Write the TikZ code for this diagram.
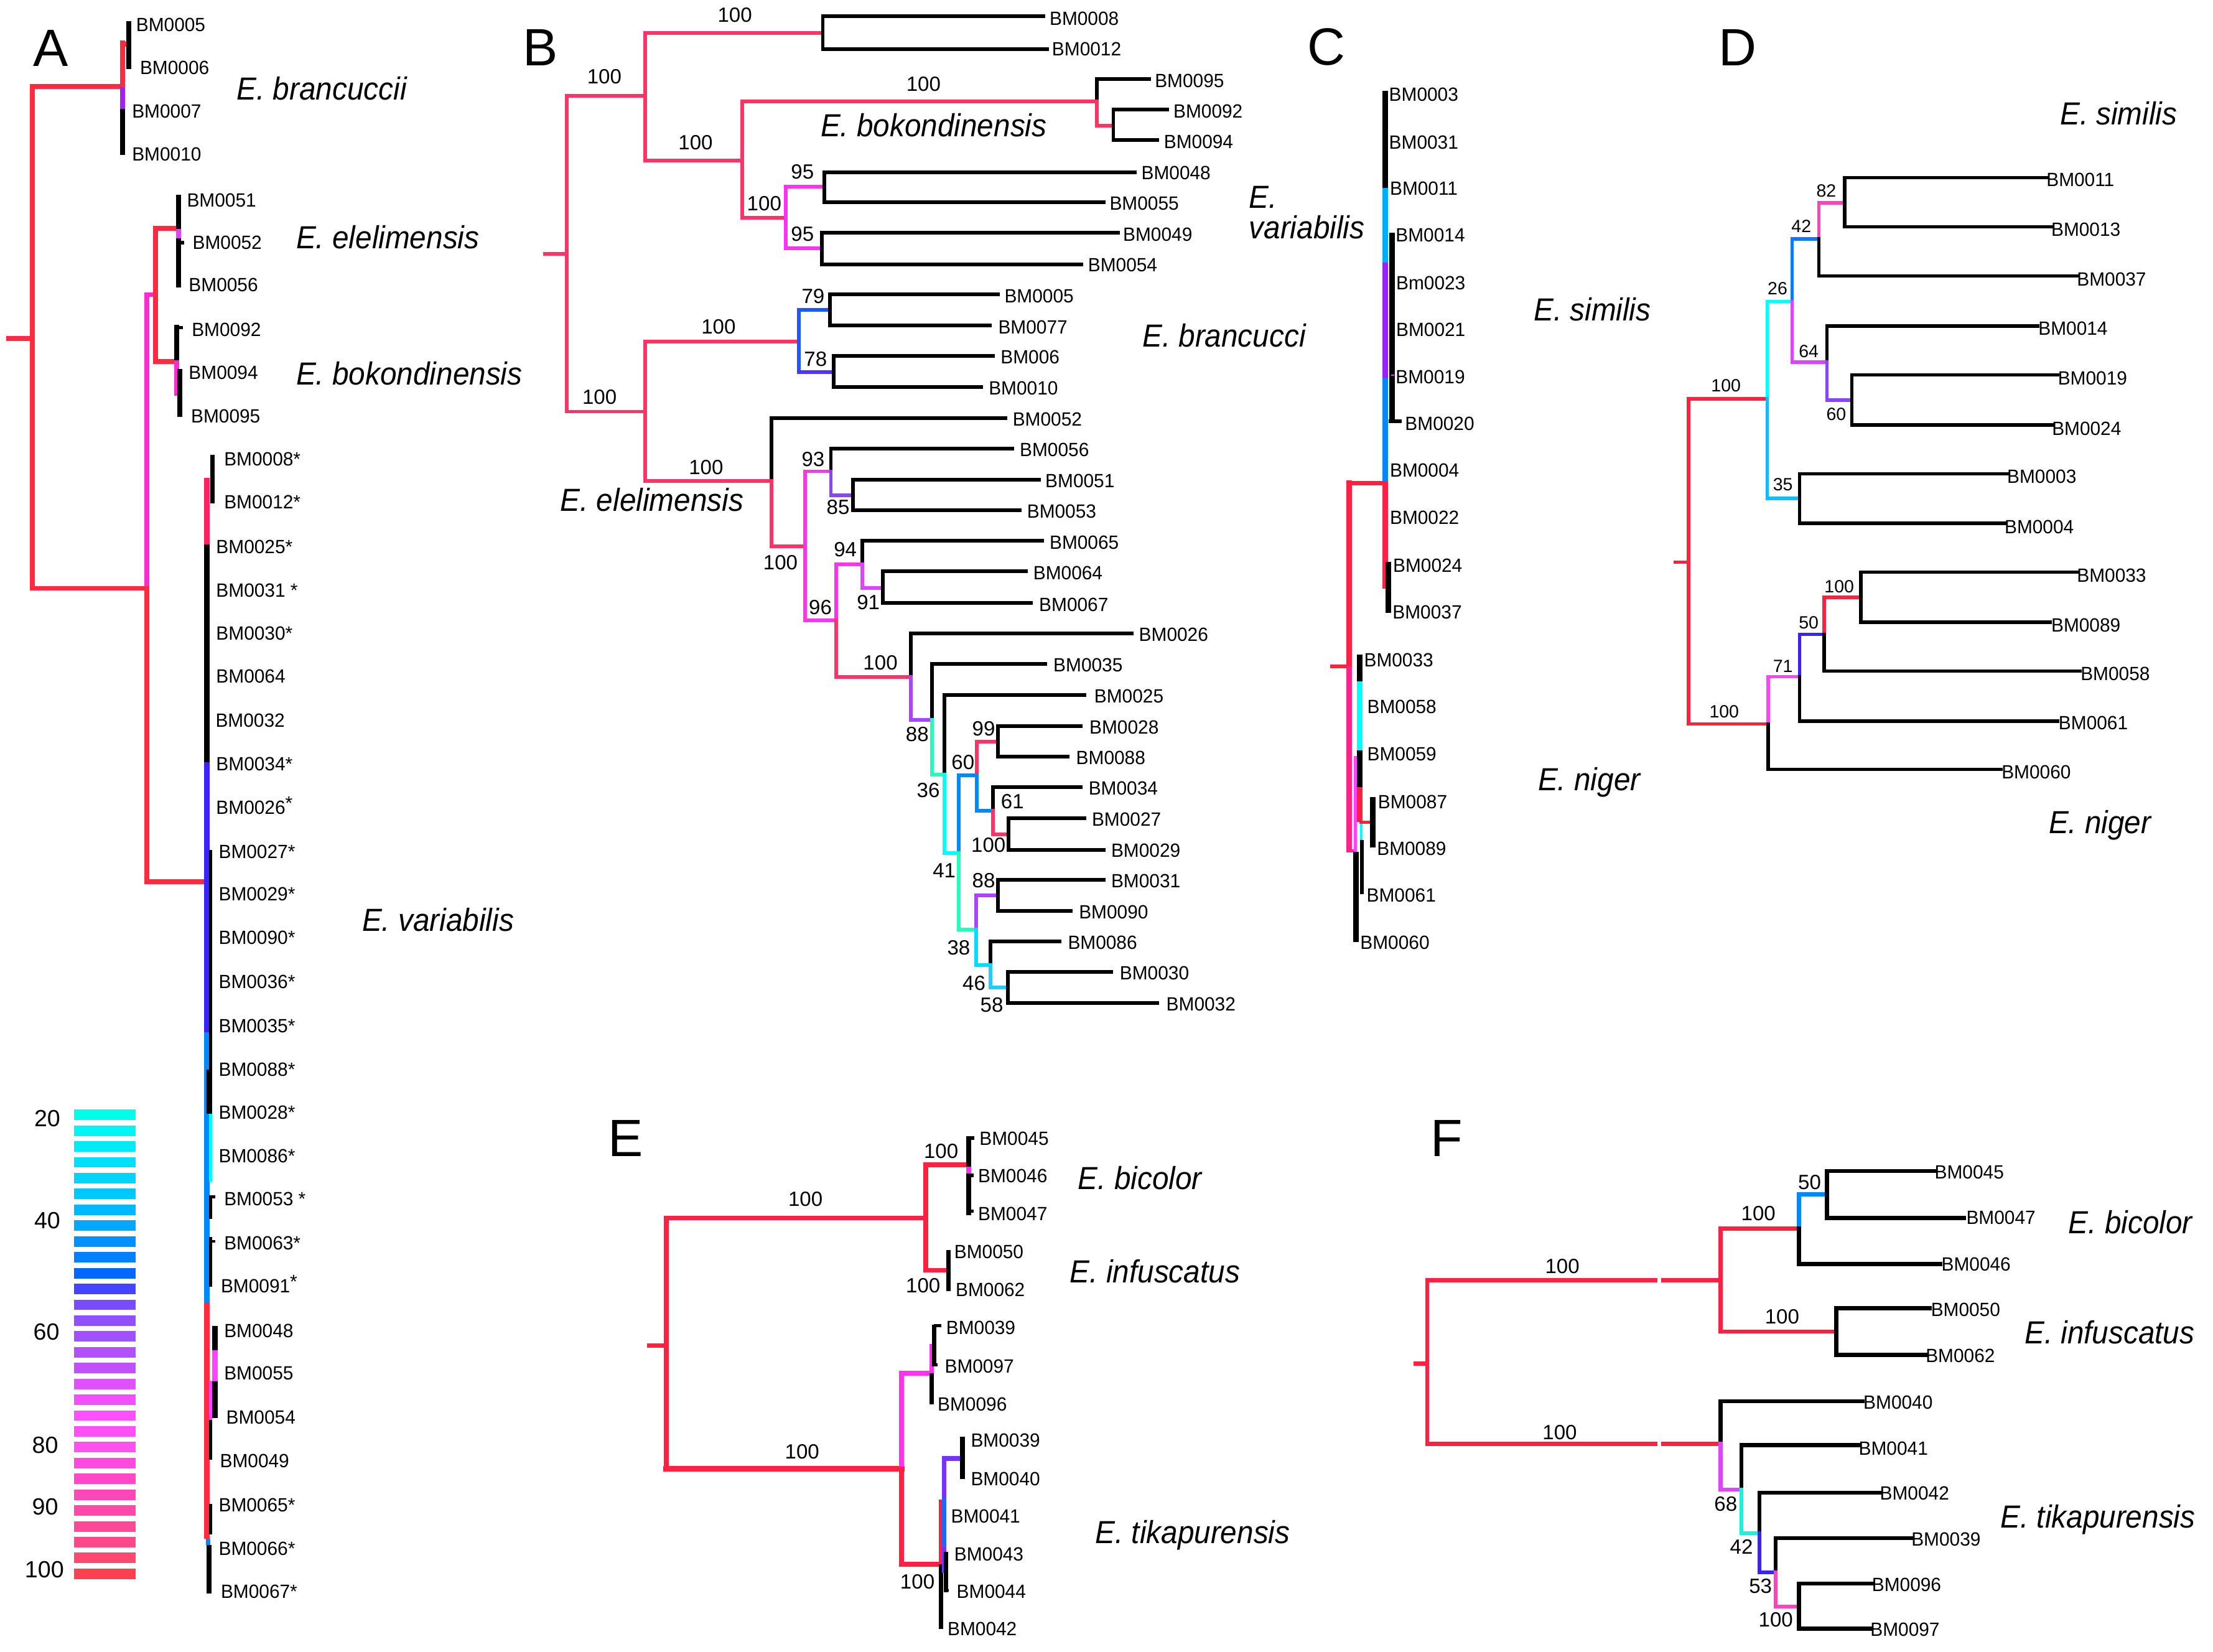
\documentclass[tikz,border=0pt]{standalone}
\usepackage{fontspec}
\setmainfont{Liberation Sans}
\newfontfamily\labfam[FakeStretch=0.97]{Liberation Sans}
\newfontfamily\spfam[FakeStretch=0.93]{Liberation Sans}
\newcommand\labfont{\labfam\fontsize{13.5}{16}\selectfont}
\newcommand\svfont{\fontsize{14.5}{17}\selectfont}
\newcommand\svdfont{\fontsize{12.5}{15}\selectfont}
\newcommand\spfont{\spfam\itshape\fontsize{22.5}{25}\selectfont}
\newcommand\pnlfont{\fontsize{37}{40}\selectfont}
\newcommand\legfont{\fontsize{16.5}{19}\selectfont}
\newcounter{nd}
\newcommand\mkname{\stepcounter{nd}\edef\mynm{n\arabic{nd}}}
\newcommand\myLB[3]{\mkname\node[lab] (\mynm) at (#1,#2) {#3};}
\newcommand\mySV[3]{\mkname\node[sv] (\mynm) at (#1,#2) {#3};}
\newcommand\mySD[3]{\mkname\node[svd] (\mynm) at (#1,#2) {#3};}
\newcommand\mySP[3]{\mkname\node[spc] (\mynm) at (#1,#2) {#3};}
\newcommand\myPL[3]{\mkname\node[pnl] (\mynm) at (#1,#2) {#3};}
\newcommand\myLG[3]{\mkname\node[leg] (\mynm) at (#1,#2) {#3};}
\newcommand\rst{\raisebox{3pt}{*}}
\definecolor{rA}{HTML}{FF2A40}
\definecolor{crA}{HTML}{FF2060}
\definecolor{rB}{HTML}{FF3366}
\definecolor{rE}{HTML}{FF2240}
\definecolor{mgA}{HTML}{FF2ACF}
\definecolor{mg}{HTML}{FF33EE}
\definecolor{mg2}{HTML}{FF44FF}
\definecolor{pm}{HTML}{DD44FF}
\definecolor{pu}{HTML}{AA44FF}
\definecolor{puA}{HTML}{A020FF}
\definecolor{vi}{HTML}{8844FF}
\definecolor{ind}{HTML}{3A22FF}
\definecolor{bl}{HTML}{2255FF}
\definecolor{bl2}{HTML}{5533FF}
\definecolor{az}{HTML}{0088FF}
\definecolor{az2}{HTML}{1177FF}
\definecolor{sky}{HTML}{11BBFF}
\definecolor{skyC}{HTML}{00AAFF}
\definecolor{lb}{HTML}{22CCFF}
\definecolor{lb2}{HTML}{00DDFF}
\definecolor{cy}{HTML}{00FFFF}
\definecolor{gc}{HTML}{22FFBB}
\definecolor{gc2}{HTML}{22EEDD}
\definecolor{pk}{HTML}{FF44BB}
\definecolor{pkC}{HTML}{FF2288}
\definecolor{puC}{HTML}{9922FF}
\definecolor{vi2}{HTML}{7733FF}
\definecolor{bl3}{HTML}{2266FF}
\tikzset{
 lab/.style={font=\labfont, anchor=base west, inner sep=0pt},
 sv/.style={font=\svfont, anchor=base, inner sep=0pt},
 svd/.style={font=\svdfont, anchor=base, inner sep=0pt},
 spc/.style={font=\spfont, anchor=base west, inner sep=0pt},
 pnl/.style={font=\pnlfont, anchor=base, inner sep=0pt},
 leg/.style={font=\legfont, anchor=base, inner sep=0pt},
 tr/.style={line cap=rect, line join=miter},
 bt/.style={line cap=butt},
}
\begin{document}
\begin{tikzpicture}[x=1pt,y=-1pt]
\fill[white] (0,0) rectangle (1560,1164.4);
\useasboundingbox (0,0) rectangle (1560,1164.4);

%%%%%%%%%%%%%%%% PANEL A
\myPL{35.6}{46.6}{A}
\begin{scope}[tr, line width=3.4pt]
\draw[rA] (6.3,238.7) -- (22.8,238.7);
\draw[rA] (86.5,60.8) -- (22.8,60.8) -- (22.8,414.7) -- (103.4,414.7);
\draw[rA] (86.5,30.4) -- (86.5,61.5);
\draw[rA] (86.5,31.2) -- (90.6,31.2);
\draw[mgA] (103.4,414.7) -- (103.4,207.7) -- (109.7,207.7);
\draw[rA] (103.4,414.7) -- (103.4,621.6) -- (143.8,621.6);
\draw[rA] (124.5,161.1) -- (109.7,161.1) -- (109.7,254.9) -- (124.4,254.9);
\end{scope}
\begin{scope}[bt, line width=3.4pt]
\draw[puA] (86.5,61.5) -- (86.5,76.6);
\draw (86.5,76.6) -- (86.5,109.1);
\draw[line width=3.6pt] (90.8,14.7) -- (90.8,48.7);
\draw (125.8,137.4) -- (125.8,161.5);
\draw[pm] (125.8,161.5) -- (125.8,167.8);
\draw (125.8,167.8) -- (125.8,202.5);
\draw[line width=2.4pt] (125.8,138.5) -- (127.5,138.5);
\draw[line width=2.4pt] (125.8,171) -- (129.8,171);
\draw (124.4,229.1) -- (124.4,253.9);
\draw[mgA] (124.4,253.9) -- (124.4,279);
\draw (126.9,260.2) -- (126.9,293.7);
\draw[line width=2.4pt] (124.4,230.8) -- (129,230.8);
% variabilis column
\draw[crA, line width=3.6pt] (145.8,336.7) -- (145.8,383.8);
\draw[line width=3.6pt] (145.8,383.8) -- (145.8,537.3);
\draw[ind, line width=3.6pt] (145.8,537.3) -- (145.8,727.7);
\draw[az, line width=3.6pt] (145.8,727.7) -- (145.8,917.7);
\draw[rA, line width=3.6pt] (145.8,917.7) -- (145.8,1084.6);
\draw[az, line width=3.2pt] (146.8,1084.6) -- (146.8,1089);
\draw[line width=3.6pt] (147.5,1089) -- (147.5,1123.2);
\draw[line width=3pt] (149.6,320.8) -- (149.6,354.8);
\draw[line width=2.2pt] (148.4,599) -- (148.4,754);
\draw[line width=4pt] (147.6,754) -- (147.6,785);
\draw[cy, line width=2.2pt] (148.6,785) -- (148.6,832.8);
\draw[line width=2.2pt] (148.4,842.6) -- (148.4,859);
\draw[line width=2pt] (148.4,843.6) -- (151.7,843.6);
\draw[line width=2pt] (148.4,875) -- (151.7,875);
\draw[line width=2.2pt] (148.4,872) -- (148.4,907);
\draw[line width=3.8pt] (151.5,934.7) -- (151.5,951.7);
\draw[mg2, line width=3.8pt] (151.5,951.7) -- (151.5,973.4);
\draw[line width=3.8pt] (151.5,973.4) -- (151.5,999.6);
\draw[mg2, line width=2.2pt] (148.6,973) -- (148.6,1001);
\draw[line width=2.2pt] (148.6,1001) -- (148.6,1029);
\draw[line width=2.2pt] (148.4,1060) -- (148.4,1081.5);
\end{scope}
\myLB{95.8}{22.0}{BM0005}
\myLB{98.5}{52.5}{BM0006}
\myLB{92.9}{82.9}{BM0007}
\myLB{92.9}{113.3}{BM0010}
\myLB{131.6}{145.8}{BM0051}
\myLB{135.6}{175.8}{BM0052}
\myLB{132.9}{205.6}{BM0056}
\myLB{135.0}{237.1}{BM0092}
\myLB{132.9}{267.1}{BM0094}
\myLB{134.5}{297.9}{BM0095}
\myLB{157.8}{328.4}{BM0008*}
\myLB{157.8}{358.6}{BM0012*}
\myLB{152.2}{390.0}{BM0025*}
\myLB{152.2}{420.8}{BM0031 *}
\myLB{152.2}{451.0}{BM0030*}
\myLB{152.2}{481.4}{BM0064}
\myLB{151.8}{512.6}{BM0032}
\myLB{152.2}{543.1}{BM0034*}
\myLB{152.2}{573.8}{BM0026\rst}
\myLB{154.0}{604.8}{BM0027*}
\myLB{154.0}{635.0}{BM0029*}
\myLB{154.0}{665.7}{BM0090*}
\myLB{154.0}{696.6}{BM0036*}
\myLB{154.0}{727.7}{BM0035*}
\myLB{154.0}{758.6}{BM0088*}
\myLB{154.0}{788.6}{BM0028*}
\myLB{154.0}{819.5}{BM0086*}
\myLB{157.8}{849.8}{BM0053 *}
\myLB{157.8}{880.7}{BM0063*}
\myLB{155.5}{911.0}{BM0091\rst}
\myLB{157.8}{942.5}{BM0048}
\myLB{157.8}{972.7}{BM0055}
\myLB{159.3}{1003.6}{BM0054}
\myLB{154.9}{1034.5}{BM0049}
\myLB{154.0}{1065.4}{BM0065*}
\myLB{154.0}{1096.3}{BM0066*}
\myLB{155.5}{1126.6}{BM0067*}
\mySP{166.7}{70.3}{E. brancuccii}
\mySP{208.6}{175.2}{E. elelimensis}
\mySP{208.6}{271.3}{E. bokondinensis}
\mySP{255.1}{656.4}{E. variabilis}
% legend
\foreach \c [count=\i from 0] in {00FFE8,00F4F4,00EAF8,00E0FA,00D4FC,00C8FF,00B8FF,00A8FF,0090FF,0080FF,0068FF,4444FF,7A4CFF,9050FF,A050FF,B050FF,C050FF,E050FF,F050FF,FF50FF,FF50F8,FF50F0,FF48E0,FF48C8,FF48B8,FF48A8,FF4898,FF4888,FF4870,FF4050}{
 \definecolor{tmpc}{HTML}{\c}
 \fill[tmpc] (52.1,{785.8+\i*11.155-3.7}) rectangle (95.8,{785.8+\i*11.155+3.7});
}
\myLG{33.3}{794.1}{20}
\myLG{33.3}{865.8}{40}
\myLG{32.7}{944.6}{60}
\myLG{31.8}{1024.3}{80}
\myLG{31.8}{1067.6}{90}
\myLG{31.3}{1111.8}{100}

%%%%%%%%%%%%%%%% PANEL B
\myPL{381}{46.4}{B}
\begin{scope}[tr, line width=2.6pt]
\draw[rB] (384.3,178.8) -- (399.5,178.8);
\draw[rB] (454.7,67.5) -- (399.5,67.5) -- (399.5,290.1) -- (454.7,290.1);
\draw[rB] (580,23.1) -- (454.7,23.1) -- (454.7,113) -- (523.4,113);
\draw (735.7,11.4) -- (580,11.4) -- (580,34.5) -- (738,34.5);
\draw[rB] (773,71.3) -- (523.4,71.3) -- (523.4,153.4) -- (553.9,153.4);
\draw (773,71.3) -- (773,55.9) -- (810.1,55.9);
\draw[rB] (773,71.3) -- (773,88.5) -- (784.8,88.5);
\draw (822.7,77.3) -- (784.8,77.3) -- (784.8,98.7) -- (815.9,98.7);
\draw[mg] (581,131.5) -- (553.9,131.5) -- (553.9,174.8) -- (579.3,174.8);
\draw (800,121.3) -- (581,121.3) -- (581,142.7) -- (778,142.7);
\draw (788.1,164.1) -- (579.3,164.1) -- (579.3,186.2) -- (762.1,186.2);
\draw[rB] (563,240.7) -- (454.7,240.7) -- (454.7,338.9) -- (543.7,338.9);
\draw[bl] (585,218.3) -- (563,218.3) -- (563,262.3);
\draw[bl2] (563,262.3) -- (587.7,262.3);
\draw (703.5,207.6) -- (585,207.6) -- (585,229.5) -- (697.8,229.5);
\draw (700.1,250.9) -- (587.7,250.9) -- (587.7,272.8) -- (691.7,272.8);
\draw (543.7,338.9) -- (543.7,294.9) -- (708.6,294.9);
\draw[rB] (543.7,338.9) -- (543.7,384.9) -- (567.4,384.9);
\draw[mg] (585.7,332.2) -- (567.4,332.2) -- (567.4,437.2) -- (589.4,437.2);
\draw (585.7,332.2) -- (585.7,316.3) -- (713.7,316.3);
\draw[vi] (585.7,332.2) -- (585.7,348.9) -- (601.3,348.9);
\draw (732.3,338.2) -- (601.3,338.2) -- (601.3,359.5) -- (718.7,359.5);
\draw[mg] (589.4,437.2) -- (589.4,397.7) -- (608,397.7);
\draw[rB] (589.4,437.2) -- (589.4,477) -- (641.9,477);
\draw (608,397.7) -- (608,381.1) -- (734.7,381.1);
\draw[pm] (608,397.7) -- (608,414.4) -- (622.3,414.4);
\draw (723.2,402.7) -- (622.3,402.7) -- (622.3,425.1) -- (726.5,425.1);
\draw (641.9,477) -- (641.9,446.5) -- (797.6,446.5);
\draw[pu] (641.9,477) -- (641.9,507.4) -- (656.8,507.4);
\draw (656.8,507.4) -- (656.8,467.9) -- (736.7,467.9);
\draw[gc] (656.8,507.4) -- (656.8,545.9) -- (665.6,545.9);
\draw (665.6,545.9) -- (665.6,490) -- (764.4,490);
\draw[cy] (665.6,545.9) -- (665.6,601.3) -- (675.8,601.3);
\draw[az] (675.8,601.3) -- (675.8,546.4) -- (688.6,546.4);
\draw[gc] (675.8,601.3) -- (675.8,655.3) -- (688.3,655.3);
\draw[rB] (688.6,546.4) -- (688.6,522.6) -- (703.5,522.6);
\draw (761.7,511.9) -- (703.5,511.9) -- (703.5,533.3) -- (752.6,533.3);
\draw[az] (688.6,546.4) -- (688.6,571.6) -- (700.1,571.6);
\draw (700.1,571.6) -- (700.1,554.7) -- (761.7,554.7);
\draw[rB] (700.1,571.6) -- (700.1,588) -- (711,588);
\draw (764.4,576.8) -- (711,576.8) -- (711,598.9) -- (778,598.9);
\draw[pu] (688.3,655.3) -- (688.3,631) -- (703.5,631);
\draw (778,620.1) -- (703.5,620.1) -- (703.5,642.2) -- (755,642.2);
\draw[lb2] (688.3,655.3) -- (688.3,680.3) -- (698.4,680.3);
\draw (698.4,680.3) -- (698.4,663.6) -- (746.8,663.6);
\draw[lb] (698.4,680.3) -- (698.4,696.2) -- (710.3,696.2);
\draw (783.1,685) -- (710.3,685) -- (710.3,706.9) -- (815.9,706.9);
\end{scope}
\myLB{739.7}{17.8}{BM0008}
\myLB{741.4}{39.2}{BM0012}
\myLB{813.9}{61.4}{BM0095}
\myLB{827.0}{83.2}{BM0092}
\myLB{820.3}{104.6}{BM0094}
\myLB{804.4}{126.7}{BM0048}
\myLB{782.0}{148.2}{BM0055}
\myLB{791.5}{170.0}{BM0049}
\myLB{766.8}{191.4}{BM0054}
\myLB{707.9}{213.3}{BM0005}
\myLB{703.5}{235.4}{BM0077}
\myLB{705.2}{256.3}{BM006}
\myLB{696.8}{278.2}{BM0010}
\myLB{713.7}{300.1}{BM0052}
\myLB{718.7}{321.7}{BM0056}
\myLB{736.7}{343.6}{BM0051}
\myLB{723.8}{365.0}{BM0053}
\myLB{739.7}{387.0}{BM0065}
\myLB{728.2}{408.7}{BM0064}
\myLB{732.3}{431.0}{BM0067}
\myLB{802.7}{452.0}{BM0026}
\myLB{742.4}{473.4}{BM0035}
\myLB{771.2}{495.5}{BM0025}
\myLB{767.8}{517.4}{BM0028}
\myLB{758.4}{538.8}{BM0088}
\myLB{767.2}{560.2}{BM0034}
\myLB{769.5}{582.1}{BM0027}
\myLB{783.1}{604.1}{BM0029}
\myLB{783.1}{625.6}{BM0031}
\myLB{760.4}{647.7}{BM0090}
\myLB{752.6}{669.1}{BM0086}
\myLB{789.2}{690.5}{BM0030}
\myLB{822.0}{712.4}{BM0032}
\mySV{426}{59}{100}
\mySV{518}{15.5}{100}
\mySV{490.3}{105.3}{100}
\mySV{651}{64.2}{100}
\mySV{538.7}{148.6}{100}
\mySV{565.7}{126}{95}
\mySV{565.7}{170}{95}
\mySV{422.6}{284.9}{100}
\mySV{506.5}{235.4}{100}
\mySV{573.2}{214}{79}
\mySV{574.9}{258}{78}
\mySV{497.7}{334.6}{100}
\mySV{573.2}{328.9}{93}
\mySV{590.8}{362.6}{85}
\mySV{550.2}{401.6}{100}
\mySV{578.3}{433}{96}
\mySV{595.9}{392.5}{94}
\mySV{612.1}{429.4}{91}
\mySV{620.6}{472}{100}
\mySV{646.6}{522.6}{88}
\mySV{654.4}{562.1}{36}
\mySV{665.6}{618.4}{41}
\mySV{678.8}{542.3}{60}
\mySV{693.4}{518.5}{99}
\mySV{713.7}{570.1}{61}
\mySV{696.8}{600.6}{100}
\mySV{675.8}{673.1}{38}
\mySV{693.4}{625.6}{88}
\mySV{686.6}{698.1}{46}
\mySV{699.1}{713.5}{58}
\mySP{578.3}{96.3}{E. bokondinensis}
\mySP{805.1}{244.5}{E. brancucci}
\mySP{394.8}{360.3}{E. elelimensis}

%%%%%%%%%%%%%%%% PANEL C
\myPL{935}{46}{C}
\begin{scope}[bt, line width=4pt]
\draw (976.6,64.1) -- (976.6,132.5);
\draw[skyC] (976.6,132.5) -- (976.6,185.2);
\draw[puC] (976.6,185.2) -- (976.6,266.6);
\draw[az] (976.6,266.6) -- (976.6,339.1);
\draw[rE] (976.6,339.1) -- (976.6,415);
\draw (981.1,164.1) -- (981.1,298.2);
\draw[line width=2.5pt] (979,296.9) -- (988.2,296.9);
\draw[mg, line width=1.2pt] (980.5,264.4) -- (983,264.4);
\draw (978.7,396) -- (978.7,431.9);
\draw[rE, line width=3pt] (949.3,340.4) -- (976.6,340.4);
\draw[rE] (951.2,338.6) -- (951.2,469.8);
\draw[pkC] (951.2,469.8) -- (951.2,600.5);
\draw[pkC, line width=2.5pt] (949.2,599.7) -- (955.1,599.7);
\draw[rE, line width=2.5pt] (937.5,469.8) -- (949.3,469.8);
\draw (958.4,461.4) -- (958.4,480.4);
\draw[cy] (958.4,480.4) -- (958.4,528.8);
\draw (958.4,528.8) -- (958.4,555);
\draw[rE] (958.4,555) -- (958.4,579.5);
\draw[cy, line width=2pt] (959.5,579.5) -- (959.5,592);
\draw[mg2, line width=2.5pt] (955.4,533) -- (955.4,600.5);
\draw (956,600.5) -- (956,663.8);
\draw[line width=2.5pt] (960,592) -- (960,630);
\draw[rE, line width=2.5pt] (958.4,579.5) -- (967.6,579.5);
\draw (967.8,561.7) -- (967.8,597.2);
\end{scope}
\begin{scope}[xshift=-3pt]
\myLB{982.0}{71.3}{BM0003}
\myLB{982.0}{105.0}{BM0031}
\myLB{982.6}{137.5}{BM0011}
\myLB{986.7}{170.4}{BM0014}
\myLB{987.0}{204.1}{Bm0023}
\myLB{987.0}{237.0}{BM0021}
\myLB{986.7}{270.3}{BM0019}
\myLB{993.3}{303.2}{BM0020}
\myLB{982.6}{336.1}{BM0004}
\myLB{982.6}{369.5}{BM0022}
\myLB{984.8}{403.2}{BM0024}
\myLB{984.5}{436.1}{BM0037}
\myLB{964.4}{469.8}{BM0033}
\myLB{966.6}{502.7}{BM0058}
\myLB{966.6}{536.0}{BM0059}
\myLB{974.2}{569.8}{BM0087}
\myLB{973.5}{602.6}{BM0089}
\myLB{966.2}{635.5}{BM0061}
\myLB{961.7}{668.9}{BM0060}
\end{scope}
\mkname\node[spc] (\mynm) at (880.3,146.8) {\vtop{\baselineskip=21.5pt\hbox{E.}\hbox{variabilis}}};
\mySP{1081}{226}{E. similis}
\mySP{1084}{557}{E. niger}

%%%%%%%%%%%%%%%% PANEL D
\myPL{1225}{46.2}{D}
\begin{scope}[tr, line width=2.4pt]
\draw[rE] (1181,396.3) -- (1190.3,396.3);
\draw[rE] (1245.7,281.2) -- (1190.3,281.2) -- (1190.3,510.3) -- (1246.5,510.3);
\draw[cy] (1245.7,281.2) -- (1245.7,212.6) -- (1263.3,212.6);
\draw[sky] (1245.7,281.2) -- (1245.7,351.3) -- (1268.5,351.3);
\draw[az2] (1263.3,212.6) -- (1263.3,168.4) -- (1282.2,168.4);
\draw[pm] (1263.3,212.6) -- (1263.3,255.3) -- (1287.9,255.3);
\draw[pk] (1282.2,168.4) -- (1282.2,142.9) -- (1300.4,142.9);
\draw (1282.2,168.4) -- (1282.2,194.6) -- (1464.6,194.6);
\draw (1442.8,125.3) -- (1300.4,125.3) -- (1300.4,159.8) -- (1445.9,159.8);
\draw (1287.9,255.3) -- (1287.9,229.9) -- (1436.3,229.9);
\draw[vi] (1287.9,255.3) -- (1287.9,282) -- (1305.5,282);
\draw (1450.3,264.3) -- (1305.5,264.3) -- (1305.5,299.6) -- (1446.4,299.6);
\draw (1415.6,334) -- (1268.5,334) -- (1268.5,368.9) -- (1413,368.9);
\draw[mg2] (1246.5,510.3) -- (1246.5,477) -- (1268.5,477);
\draw (1246.5,510.3) -- (1246.5,542.4) -- (1410.4,542.4);
\draw[ind] (1268.5,477) -- (1268.5,447.2) -- (1285.8,447.2);
\draw (1268.5,477) -- (1268.5,508.3) -- (1450.6,508.3);
\draw[rE] (1285.8,447.2) -- (1285.8,421) -- (1311.7,421);
\draw (1285.8,447.2) -- (1285.8,473) -- (1466.1,473);
\draw (1464,403.3) -- (1311.7,403.3) -- (1311.7,438.6) -- (1445.4,438.6);
\end{scope}
\begin{scope}[xshift=-4pt]
\myLB{1446.4}{131.2}{BM0011}
\myLB{1449.8}{166.4}{BM0013}
\myLB{1467.9}{201.7}{BM0037}
\myLB{1440.7}{236.1}{BM0014}
\myLB{1454.5}{271.4}{BM0019}
\myLB{1450.3}{306.6}{BM0024}
\myLB{1418.7}{340.7}{BM0003}
\myLB{1416.9}{375.9}{BM0004}
\myLB{1467.9}{410.4}{BM0033}
\myLB{1449.8}{445.2}{BM0089}
\myLB{1470.5}{479.7}{BM0058}
\myLB{1455.0}{514.2}{BM0061}
\myLB{1414.8}{549.0}{BM0060}
\end{scope}
\mySD{1216.7}{276}{100}
\mySD{1253}{207.5}{26}
\mySD{1269.8}{163.7}{42}
\mySD{1287.4}{139}{82}
\mySD{1275}{251.8}{64}
\mySD{1294.4}{296.4}{60}
\mySD{1256.8}{345.8}{35}
\mySD{1215.4}{506}{100}
\mySD{1256.8}{473.8}{71}
\mySD{1275}{443.3}{50}
\mySD{1296.5}{417.8}{100}
\mySP{1452}{88.1}{E. similis}
\mySP{1444}{587.4}{E. niger}

%%%%%%%%%%%%%%%% PANEL E
\myPL{441}{815}{E}
\begin{scope}[tr, line width=3.4pt]
\draw[rE] (457.7,948.4) -- (469.7,948.4);
\draw[rE] (652.7,858.5) -- (469.7,858.5) -- (469.7,1035.3);
\draw[rE, line width=4.2pt] (469.7,1035.3) -- (635.6,1035.3);
\draw[rE] (682.9,821.1) -- (652.7,821.1) -- (652.7,895.3) -- (668.5,895.3);
\draw[mg] (635.6,1035.3) -- (635.6,968) -- (656.7,968);
\draw[rE] (635.6,1035.3) -- (635.6,1102.6) -- (663.4,1102.6);
\end{scope}
\begin{scope}[bt, line width=3.2pt]
\draw (682.9,801.5) -- (682.9,822.3);
\draw[mg] (682.9,822.3) -- (682.9,827.2);
\draw (682.9,827.2) -- (682.9,856.6);
\draw[line width=2.6pt] (681.3,802.2) -- (687,802.2);
\draw[line width=2.4pt] (682.9,828.4) -- (686.5,828.4);
\draw[line width=2.4pt] (682.9,853.6) -- (686.5,853.6);
\draw (668.5,881) -- (668.5,910);
\draw[mg] (656.7,947.2) -- (656.7,968);
\draw (656.7,968) -- (656.7,990);
\draw (658.4,933.7) -- (658.4,963);
\draw[line width=2.4pt] (658.4,934.4) -- (663.4,934.4);
\draw[line width=2pt] (658.4,961.9) -- (661,961.9);
\draw[rE] (663.3,1056.8) -- (663.3,1102.6);
\draw (663.3,1102.6) -- (663.3,1148);
\draw[vi2] (665.5,1028) -- (665.5,1056);
\draw[vi2] (663.9,1028) -- (677.9,1028);
\draw[bl3] (665.5,1056) -- (665.5,1090.4);
\draw[vi2] (665.5,1090.4) -- (665.5,1108.7);
\draw (678.5,1012.8) -- (678.5,1042.6);
\draw (666.8,1094) -- (666.8,1122.2);
\draw[line width=2pt] (666.8,1121) -- (669,1121);
\end{scope}
\myLB{690.3}{807.1}{BM0045}
\myLB{689.3}{833.3}{BM0046}
\myLB{689.3}{860.3}{BM0047}
\myLB{672.5}{887.2}{BM0050}
\myLB{673.5}{913.6}{BM0062}
\myLB{666.8}{940.6}{BM0039}
\myLB{665.8}{967.5}{BM0097}
\myLB{660.8}{994.4}{BM0096}
\myLB{684.2}{1020.1}{BM0039}
\myLB{684.2}{1047.0}{BM0040}
\myLB{670.2}{1073.2}{BM0041}
\myLB{672.5}{1100.2}{BM0043}
\myLB{674.2}{1126.4}{BM0044}
\myLB{667.8}{1152.8}{BM0042}
\mySV{567.8}{850}{100}
\mySV{663.4}{816.2}{100}
\mySV{650.7}{911}{100}
\mySV{565.4}{1028.4}{100}
\mySV{646.7}{1119.7}{100}
\mySP{759.8}{838.2}{E. bicolor}
\mySP{754.1}{904.3}{E. infuscatus}
\mySP{771.9}{1088}{E. tikapurensis}

%%%%%%%%%%%%%%%% PANEL F
\myPL{1020}{815}{F}
\begin{scope}[tr, line width=2.8pt]
\draw[rE] (998,961.1) -- (1006.2,961.1);
\draw[rE] (1167.1,902.4) -- (1006.2,902.4) -- (1006.2,1017.7) -- (1167.1,1017.7);
\draw[rE] (1268.1,865.9) -- (1212.8,865.9) -- (1212.8,938.6) -- (1294.5,938.6);
\draw[rE, line cap=butt] (1170.8,902.4) -- (1212.8,902.4);
\draw[rE, line cap=butt] (1170.8,1017.7) -- (1212.8,1017.7);
\draw[az] (1268.1,865.9) -- (1268.1,841.9) -- (1287.8,841.9);
\draw (1268.1,865.9) -- (1268.1,890.9) -- (1367.7,890.9);
\draw (1364,825.5) -- (1287.8,825.5) -- (1287.8,858.5) -- (1384.4,858.5);
\draw (1360.3,922) -- (1294.5,922) -- (1294.5,955) -- (1357.7,955);
\draw (1212.8,1017.7) -- (1212.8,987.6) -- (1313.1,987.6);
\draw[pm] (1212.8,1017.7) -- (1212.8,1050) -- (1227.6,1050);
\draw (1227.6,1050) -- (1227.6,1018.6) -- (1310.1,1018.6);
\draw[gc2] (1227.6,1050) -- (1227.6,1080.6) -- (1240.3,1080.6);
\draw (1240.3,1080.6) -- (1240.3,1052) -- (1325,1052);
\draw[ind] (1240.3,1080.6) -- (1240.3,1108.2) -- (1251.8,1108.2);
\draw (1251.8,1108.2) -- (1251.8,1084.2) -- (1347.3,1084.2);
\draw[pk] (1251.8,1108.2) -- (1251.8,1132.5) -- (1268.1,1132.5);
\draw (1319.4,1116.1) -- (1268.1,1116.1) -- (1268.1,1148) -- (1318.3,1148);
\end{scope}
\begin{scope}[xshift=-3pt]
\myLB{1366.6}{830.9}{BM0045}
\myLB{1388.9}{862.7}{BM0047}
\myLB{1371.4}{895.8}{BM0046}
\myLB{1364.0}{927.6}{BM0050}
\myLB{1360.3}{960.1}{BM0062}
\myLB{1316.4}{993.0}{BM0040}
\myLB{1313.1}{1025.5}{BM0041}
\myLB{1328.0}{1057.3}{BM0042}
\myLB{1350.2}{1089.6}{BM0039}
\myLB{1322.4}{1121.7}{BM0096}
\myLB{1321.3}{1153.3}{BM0097}
\end{scope}
\mySV{1101.3}{897.7}{100}
\mySV{1239.5}{860.3}{100}
\mySV{1275.6}{838.2}{50}
\mySV{1256.2}{933}{100}
\mySV{1099.5}{1014.5}{100}
\mySV{1216.5}{1065.2}{68}
\mySV{1227.6}{1095.3}{42}
\mySV{1241}{1123}{53}
\mySV{1251.8}{1146.7}{100}
\mySP{1458}{869.5}{E. bicolor}
\mySP{1427}{947}{E. infuscatus}
\mySP{1410}{1077}{E. tikapurensis}
\end{tikzpicture}
\end{document}
